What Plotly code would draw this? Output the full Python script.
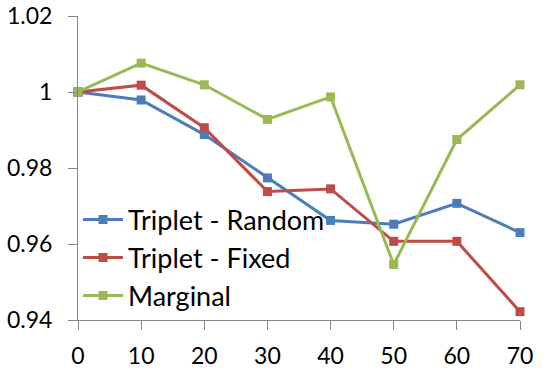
import plotly.graph_objects as go

x_vals = [0, 10, 20, 30, 40, 50, 60, 70]
triplet_random = [1.0, 0.9979, 0.9888, 0.9774, 0.9662, 0.9652, 0.9707, 0.9630]
triplet_fixed = [1.0, 1.0018, 0.9906, 0.9738, 0.9745, 0.9607, 0.9607, 0.9422]
marginal = [1.0, 1.0076, 1.0019, 0.9928, 0.9987, 0.9546, 0.9875, 1.0019]

series = [
    ("Triplet - Random", triplet_random, "#4A7EBB"),
    ("Triplet - Fixed", triplet_fixed, "#BE4B48"),
    ("Marginal", marginal, "#98B954"),
]

fig = go.Figure()
for name, vals, color in series:
    fig.add_trace(go.Scatter(
        x=x_vals, y=vals, name=name, mode="lines+markers",
        line=dict(color=color, width=3),
        marker=dict(symbol="square", size=9, color=color),
        cliponaxis=False,
    ))

axis_style = dict(
    showgrid=False, zeroline=False, showline=True, automargin=False,
    linecolor="#868686", linewidth=1,
    ticks="outside", tickcolor="#868686", ticklen=9, tickwidth=1,
    tickfont=dict(size=23, color="black"), ticklabeloverflow="allow",
)

fig.update_layout(
    width=550, height=370,
    margin=dict(l=78, r=30, t=16, b=50),
    paper_bgcolor="white", plot_bgcolor="white",
    font=dict(family="Lato, sans-serif", color="black"),
    xaxis=dict(range=[0, 70], tickvals=x_vals, ticklabelstandoff=6, **axis_style),
    yaxis=dict(range=[0.94, 1.02], tickvals=[0.94, 0.96, 0.98, 1.0, 1.02],
               ticktext=["0.94", "0.96", "0.98", "1", "1.02"],
               ticklabelstandoff=11, **axis_style),
    legend=dict(x=0.0, y=0.41, xanchor="left", yanchor="top",
                bgcolor="rgba(0,0,0,0)", font=dict(size=27),
                itemwidth=40, tracegroupgap=0),
    showlegend=True,
)

# drop the browser's default 8px body margin so the figure fills the window
fig.write_html("out.html", config={"displayModeBar": False},
               post_script="document.body.style.margin = '0';")
